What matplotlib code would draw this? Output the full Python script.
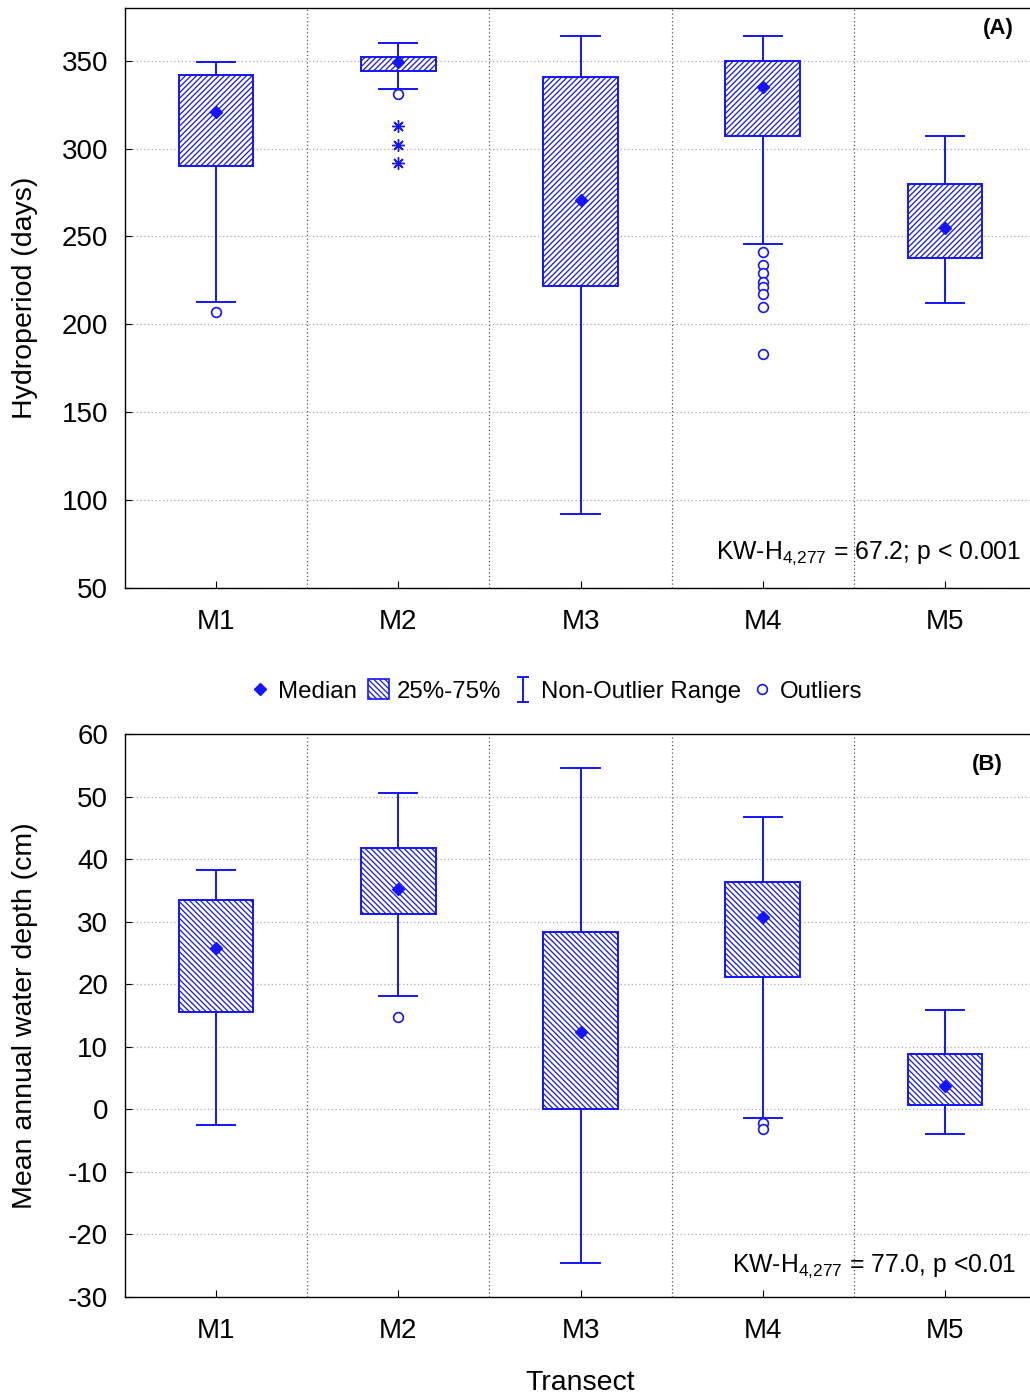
import numpy as np
import matplotlib
matplotlib.use("Agg")
import matplotlib.pyplot as plt
from matplotlib.patches import Patch
from matplotlib.lines import Line2D
from matplotlib.path import Path

plt.rcParams["font.family"] = ["Liberation Sans", "DejaVu Sans"]
plt.rcParams["mathtext.fontset"] = "custom"
plt.rcParams["mathtext.rm"] = "Liberation Sans"
plt.rcParams["hatch.linewidth"] = 0.9
plt.rcParams["axes.unicode_minus"] = False

# 数据：箱线图统计量
transects = ["M1", "M2", "M3", "M4", "M5"]

# (A) Hydroperiod (days)
hp_whislo = [213, 334, 92, 246, 212]
hp_q1 = [290, 344, 222, 307, 238]
hp_med = [321, 349, 271, 335, 255]
hp_q3 = [342, 352, 341, 350, 280]
hp_whishi = [349, 360, 364, 364, 307]
hp_outliers = [[207], [331], [], [241, 234, 229, 224, 221, 217, 210, 183], []]
hp_extremes = [[], [313, 302, 292], [], [], []]

# (B) Mean annual water depth (cm)
wd_whislo = [-2.5, 18.1, -24.6, -1.4, -3.9]
wd_q1 = [15.6, 31.2, 0.0, 21.1, 0.7]
wd_med = [25.8, 35.2, 12.4, 30.8, 3.7]
wd_q3 = [33.4, 41.7, 28.3, 36.3, 8.9]
wd_whishi = [38.2, 50.6, 54.6, 46.8, 15.9]
wd_outliers = [[], [14.8], [], [-2.2, -3.2], []]

blue = "#1414ff"

fig = plt.figure(figsize=(10.30, 13.97), dpi=100)
ax1 = fig.add_axes([125 / 1030, 1 - 588 / 1397, 911 / 1030, 580 / 1397])
ax2 = fig.add_axes([125 / 1030, 1 - 1297 / 1397, 911 / 1030, 563 / 1397])


def draw_panel(ax, whislo, q1, med, q3, whishi, outliers, hatch):
    stats = []
    for i in range(len(transects)):
        stats.append({"whislo": whislo[i], "q1": q1[i], "med": med[i], "q3": q3[i],
                      "whishi": whishi[i], "fliers": outliers[i], "label": transects[i]})
    pos = np.arange(len(transects))
    bp = ax.bxp(stats, positions=pos, widths=0.41, patch_artist=True, showfliers=True,
                boxprops=dict(facecolor="white", edgecolor=blue, linewidth=1.4, hatch=hatch),
                whiskerprops=dict(color=blue, linewidth=1.4),
                capprops=dict(color=blue, linewidth=1.4),
                medianprops=dict(linewidth=0),
                flierprops=dict(marker="o", markersize=7, markerfacecolor="white",
                                markeredgecolor=blue, markeredgewidth=1.2),
                capwidths=0.21, zorder=3)
    ax.plot(pos, med, linestyle="none", marker="D", markersize=6, color=blue, zorder=4)
    ax.set_xlim(-0.5, len(transects) - 0.5)
    ax.set_xticks(pos)
    ax.set_xticklabels(transects)
    ax.set_xticks(pos[:-1] + 0.5, minor=True)
    ax.grid(True, which="minor", axis="x", linestyle=(0, (1, 2)), color="#555555", linewidth=0.9)
    ax.grid(True, which="major", axis="y", linestyle=(0, (1, 2)), color="#aaaaaa", linewidth=0.9)
    ax.tick_params(axis="both", which="major", direction="in", length=5, labelsize=20)
    ax.tick_params(axis="x", which="major", pad=15)
    ax.tick_params(axis="y", which="major", pad=12)
    ax.tick_params(axis="x", which="minor", length=0)
    ax.set_axisbelow(True)
    for s in ax.spines.values():
        s.set_linewidth(1.0)
    return bp


draw_panel(ax1, hp_whislo, hp_q1, hp_med, hp_q3, hp_whishi, hp_outliers, "//////")
for i, ext in enumerate(hp_extremes):
    if ext:
        ax1.plot([i] * len(ext), ext, linestyle="none", marker=(8, 2, 0), markersize=9,
                 color=blue, markeredgewidth=1.0, zorder=4)
ax1.set_ylim(50, 380)
ax1.set_yticks([50, 100, 150, 200, 250, 300, 350])
ax1.set_ylabel("Hydroperiod (days)", fontsize=20.5)
ax1.yaxis.set_label_coords(-0.095, 0.5)
ax1.text(0.976, 0.965, "(A)", transform=ax1.transAxes, ha="right", va="center",
         fontsize=16, fontweight="bold")
ax1.text(0.984, 0.06, r"KW-H$_{\mathregular{4{,}277}}$ = 67.2; p < 0.001", transform=ax1.transAxes,
         ha="right", va="center", fontsize=17.8)

draw_panel(ax2, wd_whislo, wd_q1, wd_med, wd_q3, wd_whishi, wd_outliers, "\\\\\\\\\\\\")
ax2.set_ylim(-30, 60)
ax2.set_yticks(np.arange(-30, 61, 10))
ax2.set_ylabel("Mean annual water depth (cm)", fontsize=20.5)
ax2.yaxis.set_label_coords(-0.095, 0.5)
ax2.set_xlabel("Transect", fontsize=20.5, labelpad=19)
ax2.text(0.963, 0.945, "(B)", transform=ax2.transAxes, ha="right", va="center",
         fontsize=16, fontweight="bold")
ax2.text(0.979, 0.055, r"KW-H$_{\mathregular{4{,}277}}$ = 77.0, p <0.01", transform=ax2.transAxes,
         ha="right", va="center", fontsize=17.8)

# 图例
range_marker = Path([(-0.5, 1), (0.5, 1), (0, 1), (0, -1), (-0.5, -1), (0.5, -1)],
                    [Path.MOVETO, Path.LINETO, Path.MOVETO, Path.LINETO, Path.MOVETO, Path.LINETO])
handles = [
    Line2D([], [], linestyle="none", marker="D", markersize=6, color=blue),
    Patch(facecolor="white", edgecolor=blue, hatch="\\\\\\\\\\\\", linewidth=1.2),
    Line2D([], [], linestyle="none", marker=range_marker, markersize=18, markeredgecolor=blue,
           markerfacecolor="none", markeredgewidth=1.4),
    Line2D([], [], linestyle="none", marker="o", markersize=7, markerfacecolor="white",
           markeredgecolor=blue, markeredgewidth=1.2),
]
labels = ["Median", "25%-75%", "Non-Outlier Range", "Outliers"]
fig.legend(handles, labels, loc="center", bbox_to_anchor=(556 / 1030, 1 - 691 / 1397), ncol=4,
           frameon=False, fontsize=17.3, handlelength=0.9, handleheight=0.9, handletextpad=0.3,
           columnspacing=0.45)

plt.savefig("out.png", dpi=100)
